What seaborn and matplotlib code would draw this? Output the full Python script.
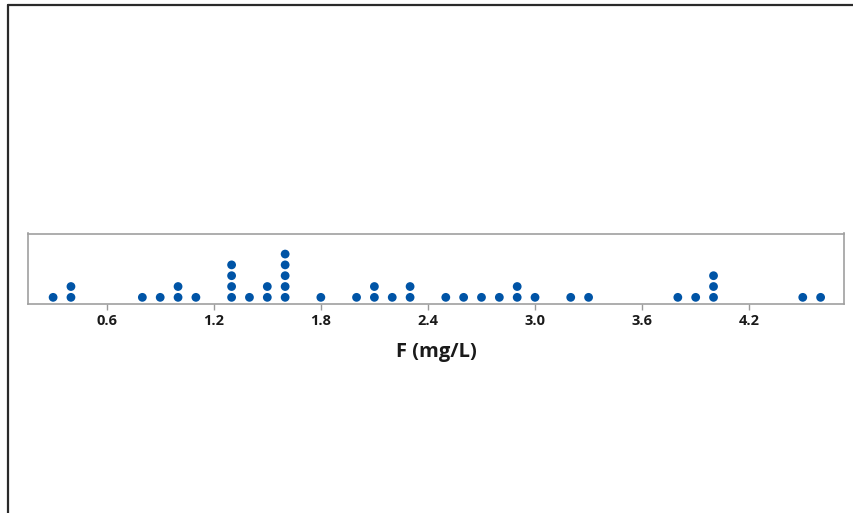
import numpy as np
import pandas as pd
import matplotlib
matplotlib.use("Agg")
import matplotlib.pyplot as plt
from matplotlib.lines import Line2D
import seaborn as sns

# Data: distinct F values and how many observations fall at each
f_values = [0.3, 0.4, 0.8, 0.9, 1.0, 1.1, 1.3, 1.4, 1.5, 1.6, 1.8,
            2.0, 2.1, 2.2, 2.3, 2.5, 2.6, 2.7, 2.8, 2.9, 3.0, 3.2, 3.3,
            3.8, 3.9, 4.0, 4.5, 4.6]
f_counts = [1, 2, 1, 1, 2, 1, 4, 1, 2, 5, 1,
            1, 2, 1, 2, 1, 1, 1, 1, 2, 1, 1, 1,
            1, 1, 3, 1, 1]
x_ticks = [0.6, 1.2, 1.8, 2.4, 3.0, 3.6, 4.2]
x_label = "F (mg/L)"

obs = np.repeat(f_values, f_counts)
df = pd.DataFrame({"F": obs})
df["stack"] = df.groupby("F").cumcount() + 1

sns.set_theme(style="white")
plt.rcParams['font.family'] = ['Open Sans', 'DejaVu Sans']

W, H = 854, 513
fig = plt.figure(figsize=(W / 100, H / 100), dpi=100)
ax = fig.add_axes([28.3 / W, 1 - 304 / H, (844 - 28.3) / W, (304 - 233.5) / H])

sns.scatterplot(data=df, x="F", y="stack", ax=ax, color="#0054A6",
                s=40, edgecolor="none", linewidth=0, legend=False)

ax.set_xlim(0.161, 4.731)
ax.set_ylim(0.385, 6.9)
ax.set_yticks([])
ax.set_xticks(x_ticks)
ax.set_xticklabels([f"{t:.1f}" for t in x_ticks])
ax.tick_params(axis="x", bottom=True, length=4, width=1, color="#9a9a9a",
               pad=3, labelsize=10.5, labelcolor="#1a1a1a")
for lab in ax.get_xticklabels():
    lab.set_fontweight("bold")
ax.set_ylabel("")
ax.set_xlabel(x_label, fontsize=14.5, fontweight="bold", color="#1a1a1a",
              labelpad=10)
for sp in ax.spines.values():
    sp.set_visible(True)
    sp.set_color("#a0a0a0")
    sp.set_linewidth(1.2)

# outer frame (top and left edges visible)
fig.add_artist(Line2D([8 / W, 1.0], [1 - 5 / H, 1 - 5 / H],
                      transform=fig.transFigure, color="#2a2a2a", linewidth=1.6))
fig.add_artist(Line2D([8 / W, 8 / W], [0.0, 1 - 5 / H],
                      transform=fig.transFigure, color="#2a2a2a", linewidth=1.6))

fig.savefig("out.png", dpi=100, facecolor="white")
